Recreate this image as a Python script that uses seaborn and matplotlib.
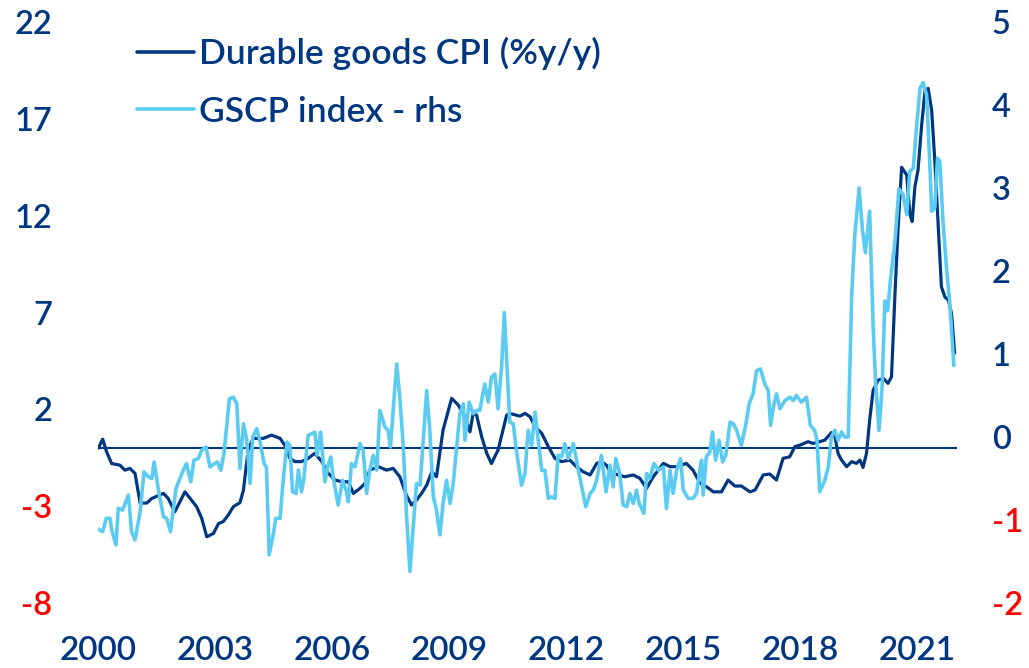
import matplotlib
matplotlib.use("Agg")
import matplotlib.pyplot as plt
import seaborn as sns
import pandas as pd

# ---------------- data ----------------
cpi_dates = [2000.01, 2000.12, 2000.22, 2000.35, 2000.56, 2000.69, 2000.82, 2000.95, 2001.08, 2001.25,
             2001.38, 2001.68, 2001.80, 2001.97, 2002.23, 2002.53, 2002.66, 2002.79, 2002.96, 2003.09,
             2003.21, 2003.34, 2003.47, 2003.64, 2003.73, 2003.85, 2003.98, 2004.24, 2004.45, 2004.67,
             2004.79, 2004.92, 2005.05, 2005.22, 2005.39, 2005.56, 2005.74, 2005.91, 2006.08, 2006.25,
             2006.42, 2006.55, 2006.72, 2006.85, 2006.97, 2007.19, 2007.40, 2007.57, 2007.74, 2007.91,
             2008.04, 2008.17, 2008.30, 2008.43, 2008.56, 2008.68, 2008.85, 2009.07, 2009.24, 2009.41,
             2009.54, 2009.62, 2009.71, 2009.84, 2009.97, 2010.09, 2010.26, 2010.48, 2010.56, 2010.82,
             2010.95, 2011.08, 2011.21, 2011.38, 2011.55, 2011.72, 2011.89, 2012.10, 2012.27, 2012.44,
             2012.62, 2012.79, 2012.91, 2013.04, 2013.13, 2013.34, 2013.51, 2013.73, 2013.90, 2014.07,
             2014.24, 2014.50, 2014.67, 2014.84, 2015.09, 2015.26, 2015.44, 2015.61, 2015.78, 2015.99,
             2016.16, 2016.33, 2016.50, 2016.72, 2016.85, 2017.06, 2017.23, 2017.40, 2017.57, 2017.74,
             2017.87, 2018.00, 2018.21, 2018.34, 2018.51, 2018.64, 2018.81, 2018.90, 2018.98, 2019.07,
             2019.20, 2019.33, 2019.45, 2019.54, 2019.62, 2019.71, 2019.79, 2019.88, 2020.01, 2020.14,
             2020.26, 2020.35, 2020.44, 2020.52, 2020.61, 2020.74, 2020.82, 2020.88, 2020.95, 2021.03,
             2021.12, 2021.21, 2021.29, 2021.38, 2021.46, 2021.55, 2021.63, 2021.72, 2021.81, 2021.89,
             2021.97]
cpi_values = [0.0, 0.46, -0.19, -0.80, -0.88, -1.14, -1.05, -1.31, -2.84, -2.84,
              -2.60, -2.34, -2.60, -3.29, -2.26, -3.03, -3.63, -4.58, -4.41, -3.90,
              -3.80, -3.46, -3.03, -2.82, -2.17, -0.10, 0.50, 0.50, 0.67, 0.50,
              0.15, -0.53, -0.70, -0.70, -0.53, -0.27, -0.70, -1.31, -1.65, -1.74,
              -1.74, -2.34, -2.08, -1.82, -1.14, -0.96, -1.14, -1.05, -1.48, -2.43,
              -2.94, -2.68, -2.34, -1.91, -1.22, -1.48, 0.93, 2.57, 2.22, 1.62,
              0.84, 1.79, 1.70, 0.58, -0.27, -0.80, -0.10, 1.70, 1.79, 1.65,
              1.79, 1.62, 1.10, 0.76, 0.07, -0.53, -0.70, -0.62, -0.96, -1.22,
              -1.39, -0.79, -0.70, -0.88, -1.22, -1.39, -1.48, -1.39, -1.57, -2.08,
              -1.48, -0.79, -0.96, -0.96, -0.79, -1.14, -1.82, -2.00, -2.26, -2.26,
              -1.65, -1.96, -1.96, -2.26, -2.17, -1.39, -1.34, -1.65, -0.53, -0.45,
              0.07, 0.15, 0.33, 0.24, 0.33, 0.41, 0.80, 0.58, -0.28, -0.62,
              -0.96, -0.70, -0.79, -0.62, -1.00, -0.27, 1.45, 2.99, 3.51, 3.60,
              3.34, 3.68, 7.99, 11.40, 14.50, 14.10, 12.10, 11.70, 13.49, 14.35,
              16.60, 18.48, 18.57, 17.45, 14.87, 11.40, 8.33, 7.80, 7.64, 6.95,
              4.90]

gscp_dates = [2000.01, 2000.12, 2000.21, 2000.31, 2000.35, 2000.46, 2000.52, 2000.63, 2000.78, 2000.86,
              2000.95, 2001.08, 2001.18, 2001.29, 2001.38, 2001.44, 2001.55, 2001.68, 2001.76, 2001.86,
              2002.00, 2002.17, 2002.27, 2002.38, 2002.46, 2002.57, 2002.66, 2002.77, 2002.87, 2003.00,
              2003.06, 2003.15, 2003.23, 2003.37, 2003.47, 2003.56, 2003.64, 2003.73, 2003.81, 2003.90,
              2003.97, 2004.07, 2004.15, 2004.26, 2004.32, 2004.39, 2004.50, 2004.56, 2004.67, 2004.75,
              2004.85, 2004.92, 2004.99, 2005.08, 2005.14, 2005.22, 2005.28, 2005.39, 2005.48, 2005.56,
              2005.62, 2005.71, 2005.82, 2005.91, 2005.97, 2006.03, 2006.16, 2006.27, 2006.36, 2006.42,
              2006.50, 2006.59, 2006.72, 2006.80, 2006.89, 2006.97, 2007.06, 2007.15, 2007.23, 2007.36,
              2007.44, 2007.50, 2007.66, 2007.74, 2007.83, 2007.91, 2008.00, 2008.09, 2008.17, 2008.26,
              2008.43, 2008.51, 2008.60, 2008.68, 2008.77, 2008.85, 2008.94, 2009.03, 2009.11, 2009.28,
              2009.37, 2009.41, 2009.52, 2009.62, 2009.71, 2009.79, 2009.92, 2010.01, 2010.09, 2010.18,
              2010.26, 2010.35, 2010.42, 2010.56, 2010.65, 2010.73, 2010.86, 2010.95, 2011.03, 2011.12,
              2011.21, 2011.29, 2011.38, 2011.46, 2011.55, 2011.63, 2011.72, 2011.80, 2011.89, 2011.97,
              2012.06, 2012.19, 2012.32, 2012.51, 2012.62, 2012.70, 2012.79, 2012.91, 2013.03, 2013.13,
              2013.21, 2013.28, 2013.38, 2013.47, 2013.56, 2013.64, 2013.73, 2013.81, 2013.88, 2014.00,
              2014.07, 2014.15, 2014.26, 2014.37, 2014.50, 2014.58, 2014.67, 2014.75, 2014.84, 2014.94,
              2015.01, 2015.14, 2015.26, 2015.35, 2015.42, 2015.48, 2015.52, 2015.60, 2015.69, 2015.76,
              2015.84, 2015.93, 2016.02, 2016.10, 2016.21, 2016.29, 2016.38, 2016.50, 2016.61, 2016.70,
              2016.80, 2016.89, 2016.99, 2017.10, 2017.19, 2017.25, 2017.32, 2017.40, 2017.49, 2017.62,
              2017.74, 2017.83, 2017.91, 2018.04, 2018.17, 2018.27, 2018.38, 2018.44, 2018.51, 2018.64,
              2018.73, 2018.81, 2018.90, 2018.98, 2019.07, 2019.15, 2019.24, 2019.33, 2019.41, 2019.52,
              2019.60, 2019.68, 2019.79, 2019.88, 2019.94, 2020.03, 2020.11, 2020.18, 2020.25, 2020.33,
              2020.44, 2020.54, 2020.65, 2020.74, 2020.82, 2020.91, 2020.99, 2021.08, 2021.16, 2021.25,
              2021.33, 2021.38, 2021.46, 2021.53, 2021.59, 2021.67, 2021.76, 2021.84, 2021.95]
gscp_values = [-1.11, -1.14, -0.98, -0.98, -1.12, -1.30, -0.86, -0.88, -0.70, -1.14,
               -1.24, -0.90, -0.42, -0.48, -0.50, -0.30, -0.64, -0.96, -0.98, -1.14,
               -0.62, -0.42, -0.32, -0.54, -0.28, -0.26, -0.16, -0.12, -0.36, -0.32,
               -0.30, -0.40, -0.20, 0.46, 0.48, 0.40, -0.38, 0.16, -0.02, -0.56,
               0.00, 0.10, -0.04, -0.32, -0.36, -1.42, -1.16, -0.98, -0.98, -0.52,
               -0.06, -0.10, -0.66, -0.68, -0.40, -0.66, -0.50, 0.02, 0.04, 0.06,
               -0.22, 0.06, -0.54, -0.32, -0.24, -0.48, -0.82, -0.52, -0.64, -0.78,
               -0.32, -0.36, -0.08, -0.16, -0.68, -0.40, -0.22, -0.40, 0.32, 0.12,
               0.08, -0.12, 0.88, 0.48, -0.12, -0.92, -1.62, -1.04, -0.56, -0.58,
               0.56, 0.08, -0.72, -0.88, -1.18, -0.80, -0.52, -0.80, -0.56, 0.28,
               0.40, -0.04, 0.42, 0.28, 0.32, 0.32, 0.64, 0.42, 0.72, 0.76,
               0.34, 0.84, 1.50, 0.18, 0.16, -0.16, -0.58, -0.44, 0.08, -0.10,
               0.30, -0.04, -0.40, -0.40, -0.74, -0.72, -0.74, -0.22, -0.24, -0.08,
               -0.26, -0.08, -0.40, -0.84, -0.68, -0.64, -0.52, -0.22, -0.66, -0.34,
               -0.60, -0.26, -0.44, -0.82, -0.84, -0.68, -0.80, -0.64, -0.80, -0.92,
               -0.44, -0.50, -0.32, -0.40, -0.36, -0.86, -0.40, -0.68, -0.40, -0.26,
               -0.64, -0.74, -0.74, -0.68, -0.44, -0.28, -0.70, -0.24, -0.18, 0.06,
               -0.28, -0.04, -0.30, -0.22, 0.18, 0.16, 0.08, -0.10, 0.14, 0.40,
               0.52, 0.80, 0.82, 0.64, 0.56, 0.14, 0.36, 0.52, 0.34, 0.44,
               0.48, 0.44, 0.50, 0.42, 0.48, 0.14, 0.08, -0.04, -0.66, -0.52,
               -0.36, 0.00, 0.08, -0.04, 0.06, 0.00, 0.00, 1.72, 2.44, 3.00,
               2.52, 2.22, 2.72, 1.32, 0.68, 0.08, 0.60, 1.64, 1.52, 1.92,
               2.36, 2.99, 2.92, 2.68, 3.20, 3.24, 3.72, 4.20, 4.27, 4.12,
               3.32, 2.72, 2.76, 3.36, 3.32, 2.60, 2.04, 1.64, 0.86]

x_ticks = [2000, 2003, 2006, 2009, 2012, 2015, 2018, 2021]
left_ticks = [-8, -3, 2, 7, 12, 17, 22]
right_ticks = [-2, -1, 0, 1, 2, 3, 4, 5]
cpi_label = "Durable goods CPI (%y/y)"
gscp_label = "GSCP index - rhs"

# ---------------- style ----------------
DARK = "#003781"
LIGHT = "#5ccbf2"
RED = "#ff0000"
WEIGHT = "semibold"

sns.set_theme(style="white")
plt.rcParams["font.family"] = ["Lato", "DejaVu Sans"]

cpi_df = pd.DataFrame({"date": cpi_dates, "value": cpi_values})
gscp_df = pd.DataFrame({"date": gscp_dates, "value": gscp_values})

fig = plt.figure(figsize=(10.29, 6.68), dpi=100)
ax = fig.add_axes([98 / 1029, 1 - 603 / 668, 859 / 1029, 581 / 668])
ax2 = ax.twinx()

ax.axhline(0, color=DARK, lw=1.5, zorder=1)
sns.lineplot(data=cpi_df, x="date", y="value", ax=ax, color=DARK, lw=2.3,
             estimator=None, sort=False, label=cpi_label, legend=False)
sns.lineplot(data=gscp_df, x="date", y="value", ax=ax2, color=LIGHT, lw=2.6,
             estimator=None, sort=False, label=gscp_label, legend=False)

ax.set_xlim(2000.0, 2022.03)
ax.set_ylim(-8, 22)
ax2.set_ylim(-2, 5)

ax.set_xticks(x_ticks)
ax.set_xticklabels([str(t) for t in x_ticks])
ax.set_yticks(left_ticks)
ax.set_yticklabels([str(t) for t in left_ticks])
ax2.set_yticks(right_ticks)
ax2.set_yticklabels([str(t) for t in right_ticks])

for a in (ax, ax2):
    a.set_xlabel("")
    a.set_ylabel("")
    for s in a.spines.values():
        s.set_visible(False)
    a.grid(False)

ax.tick_params(axis="x", length=0, pad=24, labelsize=24, labelcolor=DARK)
ax.tick_params(axis="y", length=0, pad=33, labelsize=23.5)
ax2.tick_params(axis="y", length=0, pad=25, labelsize=23.5)

for lab, v in zip(ax.get_yticklabels(), left_ticks):
    lab.set_color(RED if v < 0 else DARK)
    lab.set_fontweight(WEIGHT)
for lab, v in zip(ax2.get_yticklabels(), right_ticks):
    lab.set_color(RED if v < 0 else DARK)
    lab.set_fontweight(WEIGHT)
for lab in ax.get_xticklabels():
    lab.set_fontweight(WEIGHT)

h1, l1 = ax.get_legend_handles_labels()
h2, l2 = ax2.get_legend_handles_labels()
leg = ax2.legend(h1 + h2, l1 + l2, loc="upper left",
                 bbox_to_anchor=(137 / 1029, 1 - 37 / 668), bbox_transform=fig.transFigure,
                 frameon=False, handlelength=1.6, handletextpad=0.15,
                 labelspacing=0.72, borderpad=0, borderaxespad=0,
                 prop={"size": 25.5, "weight": WEIGHT})
for t in leg.get_texts():
    t.set_color(DARK)
for line in leg.get_lines():
    line.set_linewidth(2.6)

fig.savefig("out.png", dpi=100)
